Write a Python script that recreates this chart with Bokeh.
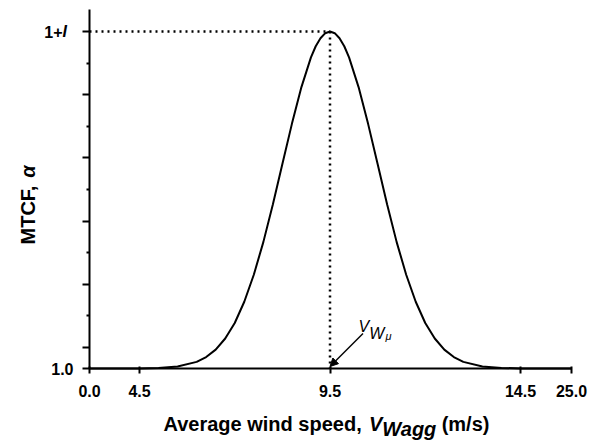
import numpy as np
from bokeh.plotting import figure
from bokeh.models import Label, Arrow, NormalHead, FixedTicker, Range1d, CustomJSTickFormatter
from bokeh.embed import file_html
from bokeh.resources import INLINE

# ---------------- data ----------------
wind_speed = [0.0, 4.5, 5.0, 5.5, 6.0, 6.25, 6.5, 6.75, 7.0, 7.25, 7.5, 7.75, 8.0,
              8.25, 8.5, 8.75, 9.0, 9.125, 9.25, 9.375, 9.5, 9.625, 9.75, 9.875,
              10.0, 10.25, 10.5, 10.75, 11.0, 11.25, 11.5, 11.75, 12.0, 12.25,
              12.5, 12.75, 13.0, 13.5, 14.0, 14.5, 25.0]
mtcf = [1.0, 1.0001, 1.0005, 1.0019, 1.0063, 1.0109, 1.0179, 1.0285, 1.0432, 1.0634,
        1.089, 1.120, 1.1558, 1.1942, 1.2323, 1.2672, 1.2954, 1.306, 1.3136, 1.3184,
        1.32, 1.3184, 1.3136, 1.306, 1.2954, 1.2672, 1.2323, 1.1942, 1.1558, 1.120,
        1.089, 1.0634, 1.0432, 1.0285, 1.0179, 1.0109, 1.0063, 1.0019, 1.0005,
        1.0001, 1.0]
x_tick_values = [0.0, 4.5, 9.5, 14.5, 25.0]
x_tick_labels = ["0.0", "4.5", "9.5", "14.5", "25.0"]
y_major_ticks = [1.0, 1.02, 1.08, 1.14, 1.20, 1.26, 1.32]
y_minor_ticks = [1.05, 1.11, 1.17, 1.23, 1.29]
y_bottom_label = "1.0"
y_axis_top = 1.341

# ---------------- layout constants ----------------
W_PX, H_PX = 591, 440
FRAME_L, FRAME_R, FRAME_B = 89, 571, 368   # canvas px of the axes box
PEAK_PX_Y = 31                              # canvas px of the 1+I level

# broken x axis (display coordinate)
BREAK_REAL = [0.0, 4.5, 14.5, 25.0]
BREAK_DISP = [4.5 - 50 / 38.1, 4.5, 14.5, 14.5 + 51 / 38.1]


def disp(v):
    return np.interp(v, BREAK_REAL, BREAK_DISP)


xd = disp(np.array(wind_speed))
yv = np.array(mtcf)
x_ticks_disp = [float(v) for v in disp(np.array(x_tick_values))]

ipk = int(np.argmax(yv))
x_peak, y_peak = float(xd[ipk]), float(yv[ipk])
y_base = float(yv.min())

# scale factors so that the frame can cover the whole canvas
sx_unit = (FRAME_R - FRAME_L) / (BREAK_DISP[-1] - BREAK_DISP[0])
sy_unit = (FRAME_B - PEAK_PX_Y) / (y_peak - y_base)
x_lo = BREAK_DISP[0] - FRAME_L / sx_unit
x_hi = BREAK_DISP[0] + (W_PX - FRAME_L) / sx_unit
y_lo = y_base - (H_PX - FRAME_B) / sy_unit
y_hi = y_base + FRAME_B / sy_unit

FONT = "Liberation Sans"
Wd = {' ': 278, '(': 333, ')': 333, ',': 278, '/': 278, 'A': 722, 'V': 667, 'W': 944,
      'a': 556, 'd': 611, 'e': 556, 'g': 611, 'i': 278, 'm': 889, 'n': 611, 'p': 611,
      'r': 389, 's': 556, 'w': 778, 'M': 833, 'T': 611, 'C': 722, 'F': 611, '1': 556,
      '+': 584, 'I': 278}


def tw(s, size):
    return sum(Wd.get(c, 600) for c in s) * size / 1000.0


def lab(text, cx, cy, size, style, align="left", baseline="alphabetic", angle=0.0):
    # cx, cy: canvas pixels from top-left
    return Label(x=cx, y=H_PX - cy, x_units="screen", y_units="screen", text=text,
                 text_font=FONT, text_font_style=style, text_font_size=f"{size}px",
                 text_align=align, text_baseline=baseline, angle=angle,
                 text_color="black")


p = figure(width=W_PX, height=H_PX, output_backend="svg", toolbar_location=None,
           title=None, x_range=Range1d(x_lo, x_hi), y_range=Range1d(y_lo, y_hi),
           min_border=0, min_border_left=0, min_border_right=0, min_border_top=0,
           min_border_bottom=0)
p.outline_line_color = None
p.xgrid.grid_line_color = None
p.ygrid.grid_line_color = None
p.background_fill_color = "white"
p.border_fill_color = "white"

# dotted guide lines
p.line([BREAK_DISP[0], x_peak], [y_peak, y_peak], line_color="black", line_width=2.5,
       line_dash="2 4")
p.line([x_peak, x_peak], [y_peak, y_base], line_color="black", line_width=2.5,
       line_dash="2 4")

# curve
p.line(xd, yv, line_color="black", line_width=2)

# x axis (fixed inside the full-canvas frame)
xa = p.xaxis[0]
xa.fixed_location = y_base
xa.bounds = (BREAK_DISP[0], BREAK_DISP[-1])
xa.ticker = FixedTicker(ticks=x_ticks_disp, minor_ticks=[])
xa.formatter = CustomJSTickFormatter(args=dict(vals=x_ticks_disp, labs=x_tick_labels), code="""
for (let i = 0; i < vals.length; i++) { if (Math.abs(tick - vals[i]) < 1e-6) return labs[i]; }
return '';
""")
xa.axis_line_width = 2
xa.axis_line_color = "black"
xa.major_tick_line_width = 2
xa.major_tick_line_color = "black"
xa.major_tick_in = 2
xa.major_tick_out = 5
xa.minor_tick_line_color = None
xa.major_label_text_font = FONT
xa.major_label_text_font_style = "bold"
xa.major_label_text_font_size = "16px"
xa.major_label_text_color = "black"
xa.major_label_standoff = 11

# y axis
ya = p.yaxis[0]
ya.fixed_location = BREAK_DISP[0]
ya.bounds = (y_base, y_axis_top)
ya.ticker = FixedTicker(ticks=y_major_ticks, minor_ticks=y_minor_ticks)
ya.formatter = CustomJSTickFormatter(args=dict(lab=y_bottom_label), code="""
return (Math.abs(tick - 1.0) < 1e-9) ? lab : '';
""")
ya.axis_line_width = 2
ya.axis_line_color = "black"
ya.major_tick_line_width = 2
ya.major_tick_line_color = "black"
ya.major_tick_in = 0
ya.major_tick_out = 7
ya.minor_tick_line_width = 2
ya.minor_tick_line_color = "black"
ya.minor_tick_in = 0
ya.minor_tick_out = 3
ya.major_label_text_font = FONT
ya.major_label_text_font_style = "bold"
ya.major_label_text_font_size = "16px"
ya.major_label_text_color = "black"
ya.major_label_standoff = 9

# "1+I" label at top tick
p.add_layout(lab("1+", 62, PEAK_PX_Y, 16, "bold", align="right", baseline="middle"))
p.add_layout(lab("I", 62, PEAK_PX_Y, 16, "bold italic", align="left", baseline="middle"))

# x axis title: Average wind speed, V_Wagg (m/s)
TS = 20
cx = 163
for t, st, dy in [("Average wind speed, ", "bold", 0), ("V", "bold italic", 0),
                  ("Wagg", "bold italic", 5), (" (m/s)", "bold", 0)]:
    p.add_layout(lab(t, cx, 423 + dy, TS, st))
    cx += tw(t, TS) + (5 if t == "Wagg" else 0)

# y axis title: MTCF, alpha (rotated)
cy = 244
for t, st in [("MTCF, ", "bold"), ("α", "bold italic")]:
    p.add_layout(lab(t, 27, cy, TS, st, angle=np.pi / 2))
    cy -= tw(t, TS)

# annotation V_W_mu with arrow
p.add_layout(lab("V", 358, 326, 16, "italic"))
p.add_layout(lab("W", 368.7, 333, 16, "italic"))
p.add_layout(lab("μ", 385, 335, 11, "italic"))

p.add_layout(Arrow(end=NormalHead(size=8, fill_color="black", line_color="black"),
                   x_start=x_peak + 33 / sx_unit, y_start=y_base + 35 / sy_unit,
                   x_end=x_peak, y_end=y_base + 2 / sy_unit,
                   line_color="black", line_width=1.5))

open("out.html", "w").write(file_html(p, INLINE))
